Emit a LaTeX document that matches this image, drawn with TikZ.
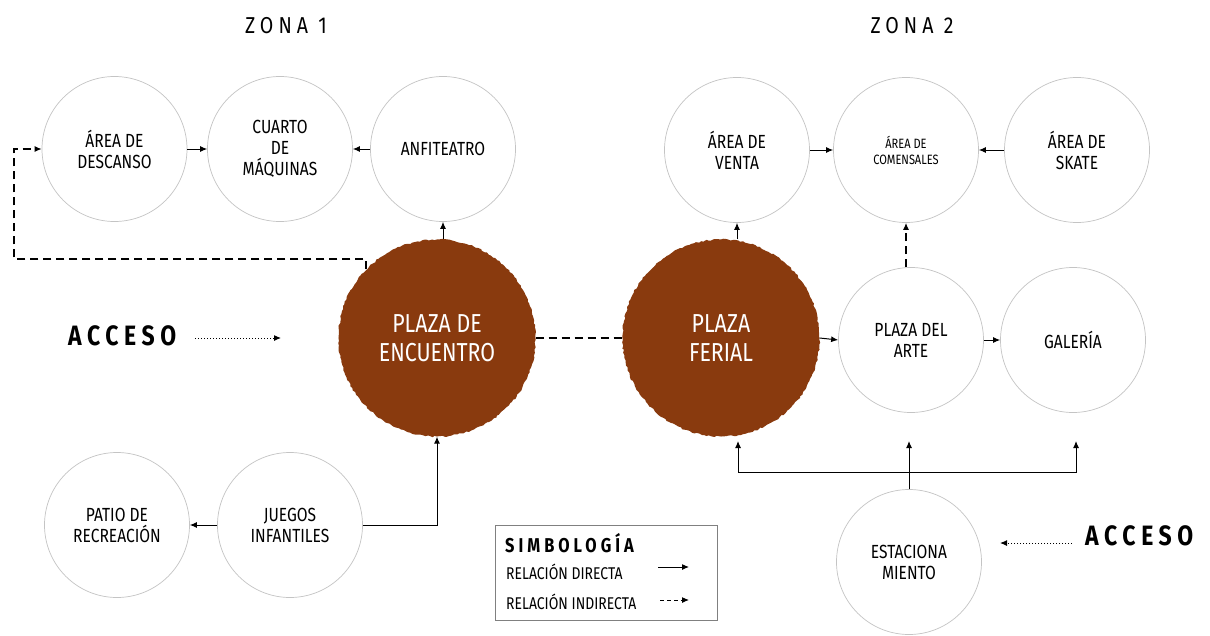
\documentclass[tikz,border=0pt]{standalone}
\usepackage{fontspec}
\setmainfont{Fira Sans}[FakeStretch=0.82]
\newfontfamily\spaced{Fira Sans}[LetterSpace=22,FakeStretch=0.85]
\newfontfamily\spacedb{Fira Sans}[LetterSpace=20,FakeStretch=0.82,BoldFont={* Bold}]
\usetikzlibrary{arrows.meta,decorations.pathmorphing}
\definecolor{brick}{RGB}{137,58,14}
\definecolor{ring}{RGB}{196,196,196}
\tikzset{
  zone/.style={circle,draw=ring,line width=0.7pt,minimum size=145pt,inner sep=0pt,align=center,font=\fontsize{19}{21}\selectfont},
  hub/.style={circle,fill=brick,minimum size=197pt,inner sep=0pt,align=center,text=white,font=\fontsize{26}{29}\selectfont,
    decorate,decoration={random steps,segment length=2.5pt,amplitude=0.8pt}},
  direct/.style={line width=1pt,-{Latex[length=7pt,width=6pt]}},
  indirect/.style={line width=1.2pt,dash pattern=on 8pt off 5pt,-{Latex[length=7pt,width=6pt]}},
  dotarr/.style={line width=1pt,dotted,-{Latex[length=7pt,width=6pt]}},
  accfont/.style={font=\spacedb\bfseries\fontsize{28}{30}\selectfont},
  legtext/.style={font=\fontsize{17}{19}\selectfont,anchor=west,inner sep=0pt},
}
\begin{document}
\begin{tikzpicture}[x=1pt,y=-1pt]
\useasboundingbox[fill=white] (0,0) rectangle (1210,635);
% titles
\node[font=\spaced\fontsize{23}{25}\selectfont] (z1) at (286,26) {ZONA 1};
\node[font=\spaced\fontsize{23}{25}\selectfont] (z2) at (912,26) {ZONA 2};
% zone 1
\node[zone] (desc) at (114.5,149) {ÁREA DE\\DESCANSO};
\node[zone] (cuarto) at (280,149) {CUARTO\\DE\\MÁQUINAS};
\node[zone] (anfi) at (443,149) {ANFITEATRO};
\node[hub] (encu) at (437,338) {PLAZA DE\\ENCUENTRO};
\node[zone] (juegos) at (290,525) {JUEGOS\\INFANTILES};
\node[zone] (patio) at (117,525) {PATIO DE\\RECREACIÓN};
% zone 2
\node[hub] (feria) at (721,338) {PLAZA\\FERIAL};
\node[zone] (venta) at (737,150) {ÁREA DE\\VENTA};
\node[zone,font=\fontsize{13.5}{16}\selectfont] (comen) at (906,150) {ÁREA DE\\COMENSALES};
\node[zone] (skate) at (1077,150) {ÁREA DE\\SKATE};
\node[zone] (arte) at (911,340) {PLAZA DEL\\ARTE};
\node[zone] (gal) at (1073,340) {GALERÍA};
\node[zone] (estac) at (909,562) {ESTACIONA\\MIENTO};
% access labels
\node[accfont,anchor=west,inner sep=0pt] (acc1) at (68,336) {ACCESO};
\coordinate (a1s) at (195,338);
\coordinate (a1e) at (281,338);
\node[accfont,anchor=west,inner sep=0pt] (acc2) at (1085,536) {ACCESO};
\coordinate (a2s) at (1072,543);
\coordinate (a2e) at (1000,543);
\draw[dotarr] (a1s) -- (a1e);
\draw[dotarr] (a2s) -- (a2e);
% zone 1 connectors
\draw[direct] (desc.east) -- (cuarto.west);
\draw[direct] (anfi.west) -- (cuarto.east);
\draw[direct] (anfi.south |- encu.north) -- (anfi.south);
\coordinate (c1) at (14,259);
\draw[indirect] (encu.136) |- (c1) |- (desc.west);
\draw[direct] (juegos.west) -- (patio.east);
\draw[direct] (juegos.east) -| (encu.south);
% between plazas
\draw[line width=1.2pt,dash pattern=on 8pt off 5pt] (encu.east) -- (feria.west);
% zone 2 connectors
\draw[direct] (venta.south |- feria.north) -- (venta.south);
\draw[direct] (venta.east) -- (comen.west);
\draw[direct] (skate.west) -- (comen.east);
\draw[indirect] (comen.south |- arte.north) -- (comen.south);
\draw[direct] (feria.east) -- (arte.west);
\draw[direct] (arte.east) -- (gal.west);
\coordinate (j) at (909,472);
\coordinate (t1) at (738,441);
\coordinate (t2) at (909,441);
\coordinate (t3) at (1076,441);
\draw[direct] (estac.north) -- (t2);
\draw[direct] (j) -| (t1);
\draw[direct] (j) -| (t3);
% legend
\node[draw=gray,line width=0.7pt,minimum width=222pt,minimum height=95pt,inner sep=0pt] (leg) at (606,572.5) {};
\node[font=\spacedb\bfseries\fontsize{20}{22}\selectfont,anchor=west,inner sep=0pt] (legt) at (505,543) {SIMBOLOGÍA};
\node[legtext] (l1) at (506,572) {RELACIÓN DIRECTA};
\node[legtext] (l2) at (506,602) {RELACIÓN INDIRECTA};
\coordinate (l1a) at (658,567);
\coordinate (l1b) at (689,567);
\coordinate (l2a) at (660,600);
\coordinate (l2b) at (689,600);
\draw[direct] (l1a) -- (l1b);
\draw[line width=1pt,dash pattern=on 4pt off 3pt,-{Latex[length=7pt,width=6pt]}] (l2a) -- (l2b);
\end{tikzpicture}
\end{document}
